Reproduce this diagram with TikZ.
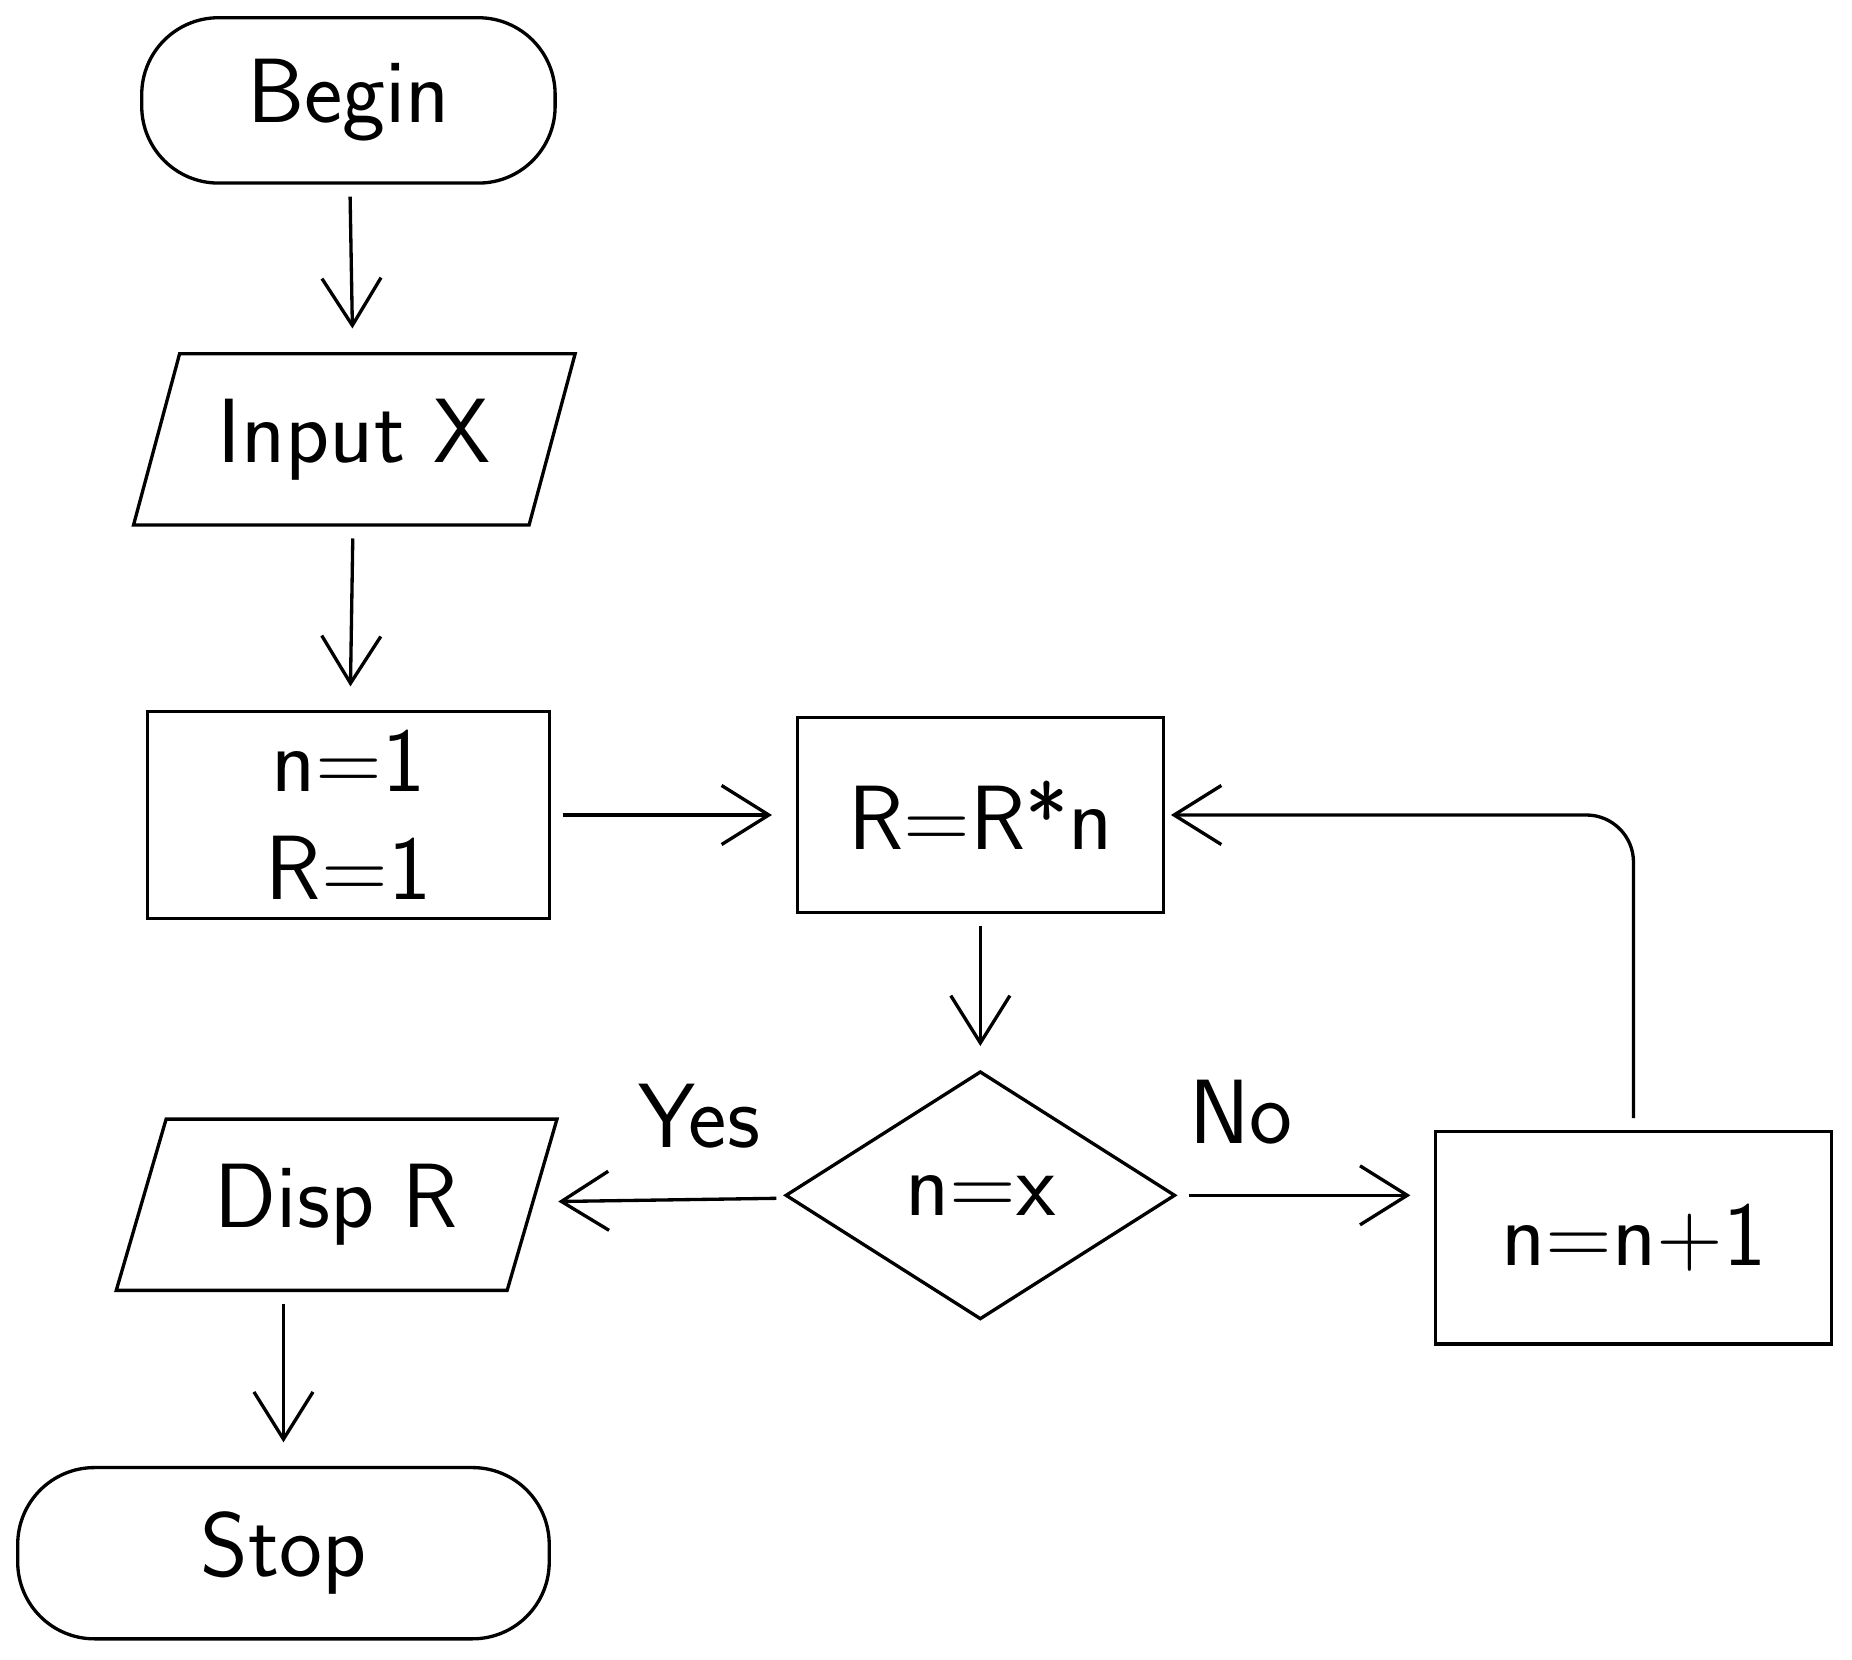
\documentclass[tikz,border=0pt]{standalone}
\usetikzlibrary{shapes.geometric,arrows.meta}

\def\Lx{2.95}
\def\Mx{8.3}
\def\Rx{13.83}

\begin{document}
\begin{tikzpicture}[thick, every node/.style={font=\sffamily\fontsize{22}{26}\selectfont},
    terminal/.style={draw, rounded corners=6.5mm, minimum width=3.5cm, minimum height=1.4cm},
    io/.style={draw, trapezium, trapezium left angle=70, trapezium right angle=110, trapezium stretches=true, minimum width=3.75cm, minimum height=1.45cm},
    process/.style={draw, minimum width=3.3cm, minimum height=1.7cm, align=center},
    decision/.style={draw, diamond, inner sep=0pt, minimum width=3.3cm, minimum height=2.1cm},
    flow/.style={-{Straight Barb[length=4mm, width=5mm]}, shorten >=2mm, shorten <=1mm}]
    \useasboundingbox (0,0) rectangle (15.68,-14.05);

    \node[terminal] (begin) at (\Lx,-0.85) {Begin};
    \node[io] (input) at (3.0,-3.72) {Input X};
    \node[process, minimum width=3.4cm, minimum height=1.75cm] (init) at (\Lx,-6.9) {n=1\\R=1};
    \node[process, minimum width=3.1cm, minimum height=1.65cm] (mult) at (\Mx,-6.9) {R=R*n};
    \node[decision] (test) at (\Mx,-10.12) {n=x};
    \node[process, minimum width=3.35cm, minimum height=1.8cm] (incr) at (\Rx,-10.48) {n=n+1};
    \node[io] (disp) at (2.85,-10.2) {Disp R};
    \node[terminal, minimum width=4.5cm, minimum height=1.45cm] (stop) at (2.4,-13.15) {Stop};

    \draw[flow] (begin) -- (input);
    \draw[flow] (input) -- (init);
    \draw[flow] (init) -- (mult);
    \draw[flow] (mult) -- (test);
    \draw[flow] (test) -- (disp) node[pos=0.35, above=3mm] {Yes};
    \draw[flow] (test.east) -- (test.east -| incr.west) node[pos=0.25, above=3mm] {No};
    \draw[flow, shorten >=0.5mm, rounded corners=4mm] (incr.north) |- (mult.east);
    \draw[flow] (disp.south -| stop.north) -- (stop.north);
\end{tikzpicture}
\end{document}
